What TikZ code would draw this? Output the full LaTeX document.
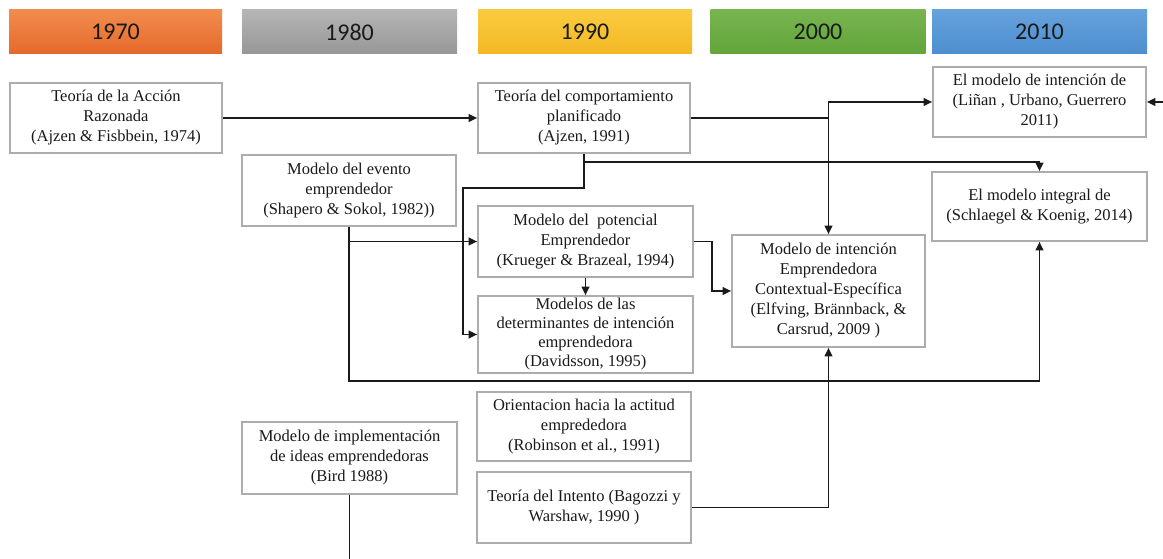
\documentclass[tikz,border=0pt]{standalone}
\usepackage{fontspec}
\setmainfont{Liberation Serif}
\newfontfamily\hdrfont{Carlito}
\usetikzlibrary{arrows.meta}

\definecolor{boxline}{HTML}{ADADAD}
\definecolor{ink}{HTML}{1A1A1A}
\definecolor{orangeT}{HTML}{F28C4E}
\definecolor{orangeB}{HTML}{E4692A}
\definecolor{grayT}{HTML}{B5B5B5}
\definecolor{grayB}{HTML}{979797}
\definecolor{yellowT}{HTML}{FACB3F}
\definecolor{yellowB}{HTML}{F2B824}
\definecolor{greenT}{HTML}{78B450}
\definecolor{greenB}{HTML}{62A53A}
\definecolor{blueT}{HTML}{66A2DC}
\definecolor{blueB}{HTML}{4D8ECF}

\tikzset{
  decade/.style={minimum height=44pt, inner sep=0pt, text=ink,
    font=\hdrfont\fontsize{24}{26}\selectfont},
  model/.style={draw=boxline, line width=1.6pt, fill=white, align=center,
    inner sep=0pt, text=ink, font=\fontsize{16.5}{20}\selectfont},
  link/.style={draw=ink, line width=1.8pt},
  arr/.style={link, -{Triangle[length=8.5pt,width=7.5pt]}}
}

\begin{document}
\begin{tikzpicture}[x=1pt,y=-1pt]
\useasboundingbox (0,0) rectangle (1163,559);

% decade headers
\node[decade, minimum width=213pt, top color=orangeT, bottom color=orangeB] (h1970) at (115.5,32) {1970};
\node[decade, minimum width=215pt, top color=grayT, bottom color=grayB] (h1980) at (349.5,32) {1980};
\node[decade, minimum width=214pt, top color=yellowT, bottom color=yellowB] (h1990) at (585,32) {1990};
\node[decade, minimum width=215pt, top color=greenT, bottom color=greenB] (h2000) at (818,32) {2000};
\node[decade, minimum width=215pt, top color=blueT, bottom color=blueB] (h2010) at (1039.5,32) {2010};

% model boxes
\node[model, minimum width=212pt, minimum height=70pt] (accion) at (116,118)
  {Teoría de la Acción\\Razonada\\(Ajzen \& Fisbbein, 1974)};
\node[model, minimum width=212pt, minimum height=70pt] (comp) at (584,118)
  {Teoría del comportamiento\\planificado\\(Ajzen, 1991)};
\node[model, minimum width=213pt, minimum height=70pt] (linan) at (1039.5,102)
  {El modelo de intención de\\(Liñan , Urbano, Guerrero\\2011)};
\node[model, minimum width=214pt, minimum height=71pt] (evento) at (349,190.5)
  {Modelo del evento\\emprendedor\\(Shapero \& Sokol, 1982))};
\node[model, minimum width=215pt, minimum height=71pt] (pot) at (585.5,241.5)
  {Modelo del\ \ potencial\\Emprendedor\\(Krueger \& Brazeal, 1994)};
\node[model, minimum width=215pt, minimum height=77pt,
  font=\fontsize{16.5}{19}\selectfont] (det) at (585.5,334.5)
  {Modelos de las\\determinantes de intención\\emprendedora\\(Davidsson, 1995)};
\node[model, minimum width=193pt, minimum height=112pt] (ctx) at (828.5,291)
  {Modelo de intención\\Emprendedora\\Contextual-Específica\\(Elfving, Brännback, \&\\Carsrud, 2009 )};
\node[model, minimum width=215pt, minimum height=69pt] (schl) at (1039.5,206.5)
  {El modelo integral de\\(Schlaegel \& Koenig, 2014)};
\node[model, minimum width=214pt, minimum height=69pt] (orient) at (584,426.5)
  {Orientacion hacia la actitud\\emprededora\\(Robinson et al., 1991)};
\node[model, minimum width=215pt, minimum height=72pt] (bird) at (349.5,458)
  {Modelo de implementación\\de ideas emprendedoras\\(Bird 1988)};
\node[model, minimum width=214pt, minimum height=71pt] (intento) at (584,507.5)
  {Teoría del Intento (Bagozzi y\\Warshaw, 1990 )};

% routing points
\coordinate (edgeR) at (1163,102);
\coordinate (jcomp) at (584,162);
\coordinate (jdown) at (584,188);
\coordinate (jleft) at (463,188);
\coordinate (jbase) at (349,381);
\coordinate (jpot) at (712,241.5);
\coordinate (edgeB) at (349.5,560);

% connectors
\draw[arr] (accion.east) -- (comp.west);
\draw[arr] (comp.east) -| (ctx.north);
\draw[arr] (comp.east -| ctx.north) |- (linan.west);
\draw[arr] (edgeR) -- (linan.east);
\draw[arr] (comp.south) -- (jcomp) -| (schl.north);
\draw[arr] (jcomp) -- (jdown) -- (jleft) |- (det.west);
\draw[arr] (evento.south) -- (jbase) -| (schl.south);
\draw[arr] (evento.south |- pot.west) -- (pot.west);
\draw[arr] (pot.south) -- (det.north);
\draw[arr] (pot.east) -- (jpot) |- (ctx.west);
\draw[arr] (intento.east) -| (ctx.south);
\draw[link] (bird.south) -- (edgeB);
\end{tikzpicture}
\end{document}
